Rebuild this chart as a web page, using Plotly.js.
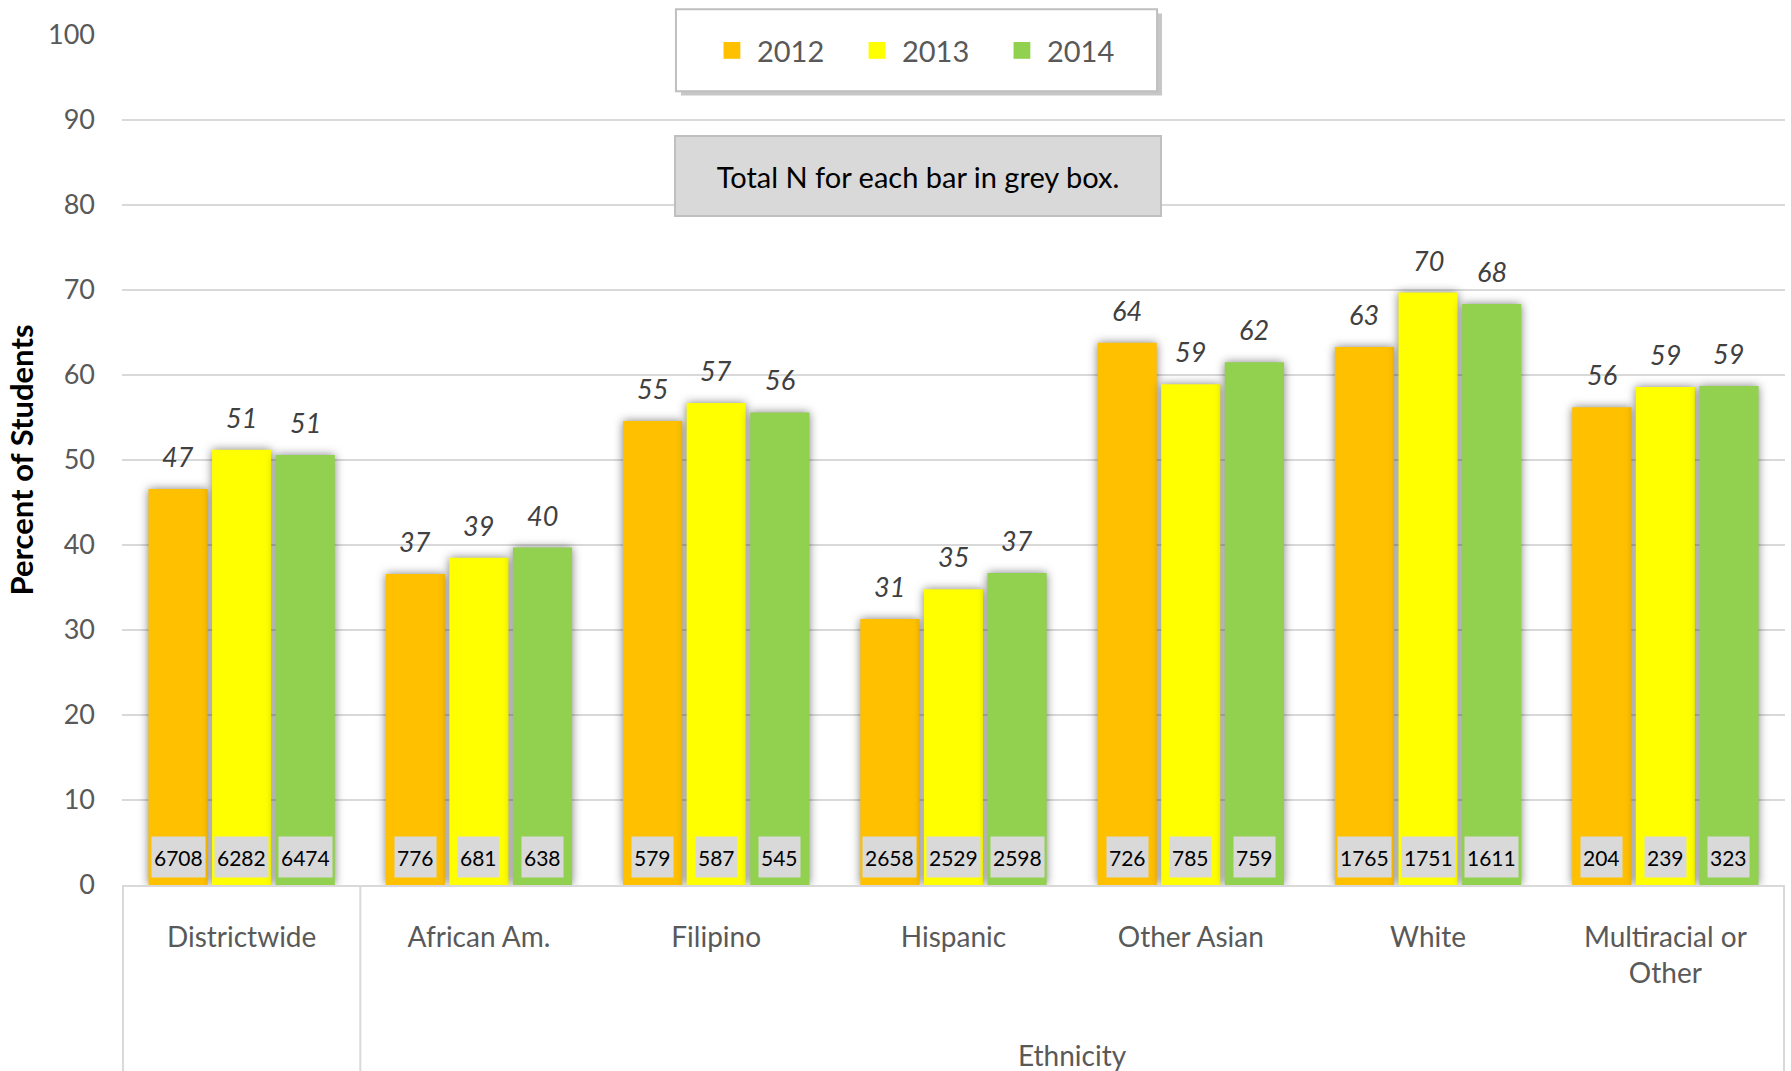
<!DOCTYPE html>
<html>
<head>
<meta charset="utf-8">
<script src="https://cdn.plot.ly/plotly-3.0.1.min.js"></script>
<style>
  html, body { margin: 0; padding: 0; background: #ffffff; }
  #chart { width: 1791px; height: 1071px; }
  .barlayer .points path { filter: drop-shadow(0px 0px 5px rgba(0,0,0,0.5)); }
  .legend .scrollbox { clip-path: none !important; }
  .legend .legendpoints path { transform-box: fill-box; transform-origin: center; transform: translate(15px, 0px) scale(1.4); }
</style>
</head>
<body>
<div id="chart"></div>
<script>
// ---- data ----
const categories = ["Districtwide", "African Am.", "Filipino", "Hispanic", "Other Asian", "White", "Multiracial or<br>Other"];
const seriesNames = ["2012", "2013", "2014"];
const values2012 = [46.6, 36.6, 54.6, 31.3, 63.8, 63.3, 56.2];
const values2013 = [51.2, 38.5, 56.7, 34.8, 58.9, 69.7, 58.6];
const values2014 = [50.6, 39.7, 55.6, 36.7, 61.5, 68.35, 58.7];
const labels2012 = ["47", "37", "55", "31", "64", "63", "56"];
const labels2013 = ["51", "39", "57", "35", "59", "70", "59"];
const labels2014 = ["51", "40", "56", "37", "62", "68", "59"];
const n2012 = [6708, 776, 579, 2658, 726, 1765, 204];
const n2013 = [6282, 681, 587, 2529, 785, 1751, 239];
const n2014 = [6474, 638, 545, 2598, 759, 1611, 323];
const yTicks = [0, 10, 20, 30, 40, 50, 60, 70, 80, 90, 100];
const groupLabel = "Ethnicity";
const noteText = "Total N for each bar in grey box.";
const yTitle = "Percent of Students";

// ---- style ----
const colors = ["#FFC000", "#FFFF00", "#92D050"];
const FONT = "Lato, 'Open Sans', sans-serif";
const bargap = 0.196;
const bargroupgap = 0.07;

const allValues = [values2012, values2013, values2014];
const allLabels = [labels2012, labels2013, labels2014];
const allN = [n2012, n2013, n2014];

const traces = seriesNames.map((name, s) => ({
  type: "bar",
  name: name,
  x: categories,
  y: allValues[s],
  marker: { color: colors[s], line: { width: 0 } },
  hoverinfo: "x+y+name"
}));

const slot = (1 - bargap) / seriesNames.length;
const annotations = [];
seriesNames.forEach((name, s) => {
  const off = (s - (seriesNames.length - 1) / 2) * slot;
  categories.forEach((c, i) => {
    // value label above bar
    annotations.push({
      xref: "x", yref: "y", x: i + off, y: allValues[s][i],
      text: allLabels[s][i], showarrow: false,
      xanchor: "center", yanchor: "bottom", yshift: 14,
      font: { family: FONT, size: 27, color: "#404040", style: "italic" }
    });
    // N in grey box at bottom of bar
    annotations.push({
      xref: "x", yref: "y", x: i + off, y: 0,
      text: String(allN[s][i]), showarrow: false,
      xanchor: "center", yanchor: "bottom", yshift: 7,
      height: 36, borderpad: 2,
      bgcolor: "#D9D9D9",
      font: { family: FONT, size: 21, color: "#000000" }
    });
  });
});

// group label under ethnicity categories
annotations.push({
  xref: "x", yref: "paper", x: (1 + categories.length - 1) / 2, y: -0.2,
  text: groupLabel, showarrow: false, xanchor: "center", yanchor: "middle",
  font: { family: FONT, size: 28, color: "#595959" }
});
// note box
annotations.push({
  xref: "paper", yref: "paper", x: 0.4787, y: 0.8344,
  text: noteText, showarrow: false, xanchor: "center", yanchor: "middle",
  width: 482, height: 76, borderpad: 1,
  bgcolor: "#D9D9D9", bordercolor: "#BFBFBF", borderwidth: 2,
  font: { family: FONT, size: 29, color: "#000000" }
});

const shapes = [];
// legend box shadow + box (below grid)
shapes.push({ type: "rect", xref: "paper", yref: "paper", layer: "below",
  x0: 0.3361, x1: 0.6254, y0: 0.9288, y1: 1.0252,
  fillcolor: "rgba(0,0,0,0.22)", line: { width: 0 } });
shapes.push({ type: "rect", xref: "paper", yref: "paper", layer: "below",
  x0: 0.3331, x1: 0.6224, y0: 0.9338, y1: 1.0302,
  fillcolor: "#ffffff", line: { color: "#BFBFBF", width: 2 } });
// category box dividers
[-0.5, 0.5, categories.length - 0.5].forEach(xv => {
  shapes.push({ type: "line", xref: "x", yref: "paper", x0: xv, x1: xv, y0: 0, y1: -0.22,
    line: { color: "#D9D9D9", width: 2 } });
});

const layout = {
  width: 1791, height: 1071,
  margin: { l: 122, r: 6, t: 35, b: 186, autoexpand: false },
  paper_bgcolor: "#ffffff", plot_bgcolor: "rgba(0,0,0,0)",
  barmode: "group", bargap: bargap, bargroupgap: bargroupgap,
  font: { family: FONT, color: "#595959" },
  xaxis: {
    type: "category", automargin: false,
    showgrid: false, zeroline: false,
    showline: true, linecolor: "#D9D9D9", linewidth: 2,
    ticks: "", ticklabelstandoff: 26,
    tickfont: { family: FONT, size: 28, color: "#595959" }
  },
  yaxis: {
    range: [0, 100], tickvals: yTicks, automargin: false,
    showgrid: true, gridcolor: "#D9D9D9", gridwidth: 1.5,
    zeroline: false, showline: false, ticks: "",
    ticklabelstandoff: 26,
    tickfont: { family: FONT, size: 27, color: "#595959" },
    title: { text: yTitle, standoff: 5,
      font: { family: FONT, size: 31, color: "#000000", weight: "bold" } }
  },
  showlegend: true,
  legend: {
    orientation: "h", xref: "container", yref: "container",
    x: 0.4003, xanchor: "left", y: 0.9766, yanchor: "top",
    bgcolor: "rgba(0,0,0,0)", borderwidth: 0,
    entrywidth: 100, entrywidthmode: "pixels", itemwidth: 30,
    font: { family: FONT, size: 29, color: "#595959" },
    traceorder: "normal"
  },
  annotations: annotations,
  shapes: shapes
};

Plotly.newPlot("chart", traces, layout, { displayModeBar: false, staticPlot: true });
</script>
</body>
</html>
